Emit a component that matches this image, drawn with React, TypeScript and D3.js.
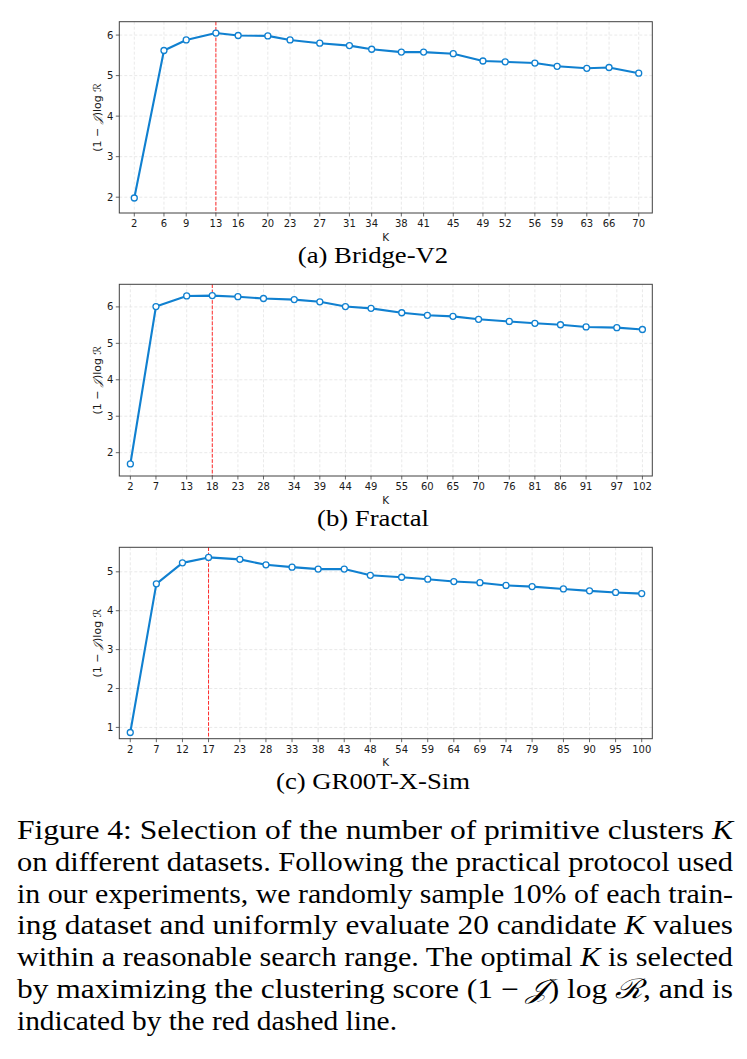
import React from "react";
import * as d3 from "d3";

// Candidate K values and clustering scores (1 − J) log R per dataset
const bridgeK = [2, 6, 9, 13, 16, 20, 23, 27, 31, 34, 38, 41, 45, 49, 52, 56, 59, 63, 66, 70];
const bridgeScore = [1.98, 5.62, 5.88, 6.05, 5.99, 5.98, 5.88, 5.8, 5.74, 5.65, 5.58, 5.58, 5.54, 5.36, 5.34, 5.31, 5.23, 5.18, 5.2, 5.06];

const fractalK = [2, 7, 13, 18, 23, 28, 34, 39, 44, 49, 55, 60, 65, 70, 76, 81, 86, 91, 97, 102];
const fractalScore = [1.69, 6.01, 6.3, 6.31, 6.28, 6.23, 6.2, 6.14, 6.01, 5.96, 5.84, 5.77, 5.74, 5.66, 5.6, 5.55, 5.51, 5.45, 5.43, 5.38];

const grootK = [2, 7, 12, 17, 23, 28, 33, 38, 43, 48, 54, 59, 64, 69, 74, 79, 85, 90, 95, 100];
const grootScore = [0.87, 4.69, 5.23, 5.37, 5.32, 5.18, 5.12, 5.07, 5.07, 4.91, 4.86, 4.81, 4.75, 4.72, 4.65, 4.62, 4.56, 4.51, 4.47, 4.44];

const bridgeYTicks = [2, 3, 4, 5, 6];
const fractalYTicks = [2, 3, 4, 5, 6];
const grootYTicks = [1, 2, 3, 4, 5];

const subtitles = ["(a) Bridge-V2", "(b) Fractal", "(c) GR00T-X-Sim"];

const W = 747;
const H = 1059;
const PLOT_LEFT = 119.3;
const PLOT_RIGHT = 652.3;
const BLUE = "#1080d0";
const SANS = "DejaVu Sans, sans-serif";
const SERIF = "Liberation Serif, serif";

type PanelProps = {
  ks: number[];
  scores: number[];
  xDomain: [number, number];
  yDomain: [number, number];
  yTicks: number[];
  top: number;
  bottom: number;
  subtitle: string;
};

function Panel({ ks, scores, xDomain, yDomain, yTicks, top, bottom, subtitle }: PanelProps) {
  const x = d3.scaleLinear().domain(xDomain).range([PLOT_LEFT, PLOT_RIGHT]);
  const y = d3.scaleLinear().domain(yDomain).range([bottom, top]);
  const pts = ks.map((k, i) => [k, scores[i]] as [number, number]);
  const line = d3
    .line<[number, number]>()
    .x((d) => x(d[0]))
    .y((d) => y(d[1]));
  const bestIdx = d3.maxIndex(scores);
  const bestX = x(ks[bestIdx]);
  const midY = (top + bottom) / 2;

  return (
    <g>
      {/* grid */}
      {ks.map((k) => (
        <line key={"gx" + k} x1={x(k)} x2={x(k)} y1={top} y2={bottom} stroke="#e0e0e0" strokeWidth={0.7} strokeDasharray="3,2" />
      ))}
      {yTicks.map((t) => (
        <line key={"gy" + t} x1={PLOT_LEFT} x2={PLOT_RIGHT} y1={y(t)} y2={y(t)} stroke="#e0e0e0" strokeWidth={0.7} strokeDasharray="3,2" />
      ))}
      {/* optimal K marker */}
      <line x1={bestX} x2={bestX} y1={top} y2={bottom} stroke="#ff2a2a" strokeWidth={1} strokeDasharray="3.7,1.6" />
      {/* score curve */}
      <path d={line(pts) || ""} fill="none" stroke={BLUE} strokeWidth={2.1} strokeLinejoin="round" />
      {pts.map((p, i) => (
        <circle key={"m" + i} cx={x(p[0])} cy={y(p[1])} r={3} fill="#ffffff" stroke={BLUE} strokeWidth={1.3} />
      ))}
      {/* frame */}
      <rect x={PLOT_LEFT} y={top} width={PLOT_RIGHT - PLOT_LEFT} height={bottom - top} fill="none" stroke="#404040" strokeWidth={1} />
      {/* x ticks */}
      {ks.map((k) => (
        <g key={"xt" + k}>
          <line x1={x(k)} x2={x(k)} y1={bottom} y2={bottom + 3.5} stroke="#404040" strokeWidth={0.8} />
          <text x={x(k)} y={bottom + 14} textAnchor="middle" fontSize={10} fontFamily={SANS} fill="#1a1a1a">
            {k}
          </text>
        </g>
      ))}
      {/* y ticks */}
      {yTicks.map((t) => (
        <g key={"yt" + t}>
          <line x1={PLOT_LEFT - 3.5} x2={PLOT_LEFT} y1={y(t)} y2={y(t)} stroke="#404040" strokeWidth={0.8} />
          <text x={PLOT_LEFT - 6} y={y(t) + 3.6} textAnchor="end" fontSize={10} fontFamily={SANS} fill="#1a1a1a">
            {t}
          </text>
        </g>
      ))}
      {/* axis titles */}
      <text x={(PLOT_LEFT + PLOT_RIGHT) / 2} y={bottom + 27.5} textAnchor="middle" fontSize={10.5} fontFamily={SANS} fill="#1a1a1a">
        K
      </text>
      <text transform={`translate(101,${midY}) rotate(-90)`} textAnchor="middle" fontSize={11} fontFamily={SANS} fill="#1a1a1a">
        (1 − <tspan fontStyle="italic">𝒥</tspan>)log <tspan>ℛ</tspan>
      </text>
      {/* subfigure caption */}
      <text transform={`translate(373,${bottom + 50}) scale(1.16,1)`} textAnchor="middle" fontSize={23} fontFamily={SERIF} fill="#000">
        {subtitle}
      </text>
    </g>
  );
}

const captionLines: { parts: { t: string; i?: boolean }[]; width: number }[] = [
  { parts: [{ t: "Figure 4: Selection of the number of primitive clusters " }, { t: "K", i: true }], width: 716 },
  { parts: [{ t: "on different datasets. Following the practical protocol used" }], width: 716 },
  { parts: [{ t: "in our experiments, we randomly sample 10% of each train-" }], width: 716 },
  { parts: [{ t: "ing dataset and uniformly evaluate 20 candidate " }, { t: "K", i: true }, { t: " values" }], width: 716 },
  { parts: [{ t: "within a reasonable search range. The optimal " }, { t: "K", i: true }, { t: " is selected" }], width: 716 },
  {
    parts: [
      { t: "by maximizing the clustering score (1 − " },
      { t: "𝒥", i: true },
      { t: ") log " },
      { t: "ℛ", i: true },
      { t: ", and is" },
    ],
    width: 716,
  },
  { parts: [{ t: "indicated by the red dashed line." }], width: 380 },
];

export default function App() {
  return (
    <svg width={W} height={H} viewBox={`0 0 ${W} ${H}`} style={{ position: "absolute", left: 0, top: 0, background: "#fff" }}>
      <rect width={W} height={H} fill="#fff" />
      <Panel ks={bridgeK} scores={bridgeScore} xDomain={[-0.02, 71.83]} yDomain={[1.61, 6.33]} yTicks={bridgeYTicks} top={21.7} bottom={213} subtitle={subtitles[0]} />
      <Panel ks={fractalK} scores={fractalScore} xDomain={[-0.16, 103.93]} yDomain={[1.36, 6.62]} yTicks={fractalYTicks} top={284.3} bottom={476} subtitle={subtitles[1]} />
      <Panel ks={grootK} scores={grootScore} xDomain={[-0.1, 102.03]} yDomain={[0.71, 5.63]} yTicks={grootYTicks} top={547.3} bottom={738.7} subtitle={subtitles[2]} />
      {captionLines.map((ln, i) => (
        <text
          key={"c" + i}
          x={17}
          y={839 + i * 31.8}
          fontSize={27}
          fontFamily={SERIF}
          fill="#000"
          textLength={ln.width}
          lengthAdjust="spacingAndGlyphs"
        >
          {ln.parts.map((p, j) => (
            <tspan key={j} fontStyle={p.i ? "italic" : "normal"}>
              {p.t}
            </tspan>
          ))}
        </text>
      ))}
    </svg>
  );
}
